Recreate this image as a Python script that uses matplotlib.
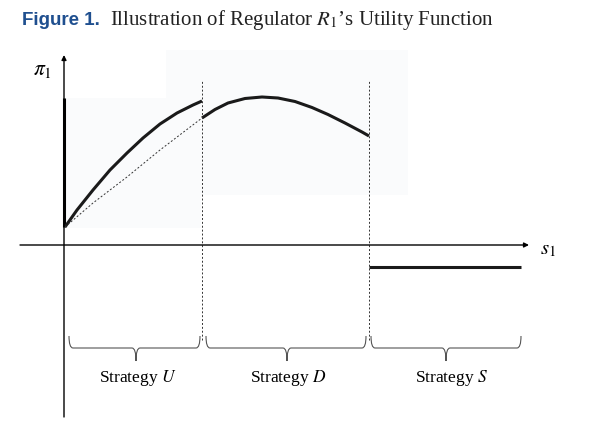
import numpy as np
import matplotlib
matplotlib.use('Agg')
import matplotlib.pyplot as plt
from matplotlib.path import Path
from matplotlib.patches import PathPatch, Rectangle

plt.rcParams['mathtext.fontset'] = 'stix'

# points (s1 along x, pi1 up)
u_s = [1, 13, 29, 46, 63, 79, 96, 113, 129, 138]
u_pi = [18, 35, 55, 75, 92, 107, 121, 132, 140, 144]
u_dash_s = [1, 29, 63, 96, 138]
u_dash_pi = [18, 42, 68, 95, 127]
d_s = [138, 151, 164, 181, 198, 214, 231, 248, 264, 281, 298, 305]
d_pi = [127, 135.5, 142, 146.5, 148, 147, 143.5, 137.5, 130.5, 122, 113, 109]
s_s = [305, 457]
s_pi = [-22, -22]

cut_s = [138, 305]
cut_top, cut_bottom = 165, -95

# braces: start, end, tip, label
brace_start = [5, 142, 307]
brace_end = [136, 302, 457]
brace_tip = [72, 223, 382]
strategies = ['U', 'D', 'S']
label_s = [74, 224, 388]

fig = plt.figure(figsize=(5.96, 4.33), dpi=100)
ax = fig.add_axes([0, 0, 1, 1])
ax.set_xlim(-64, 532)
ax.set_ylim(-188, 245)
ax.axis('off')

# faint scan background
for (x, y, w, h) in [(0, 17, 137, 130), (102, 50, 242, 145)]:
    ax.add_patch(Rectangle((x, y), w, h, facecolor='#fafbfc', edgecolor='none', zorder=0))

# axes with arrows
ax.annotate('', xy=(0, 190), xytext=(0, -172),
            arrowprops=dict(arrowstyle='-|>', lw=1.0, color='black', mutation_scale=7, shrinkA=0, shrinkB=0))
ax.annotate('', xy=(465, 0), xytext=(-44, 0),
            arrowprops=dict(arrowstyle='-|>', lw=1.0, color='black', mutation_scale=7, shrinkA=0, shrinkB=0))
ax.plot([0, 0], [u_pi[0], 147], color='black', lw=2.2, solid_capstyle='butt')
ax.text(-22, 175, r'$\pi_1$', fontsize=15.5, ha='center', va='center')
ax.text(484, -4, r'$s_1$', fontsize=15, ha='center', va='center')

# utility curves
ax.plot(u_s, u_pi, color='#1a1a1a', lw=2.2, solid_capstyle='butt', solid_joinstyle='round')
ax.plot(u_dash_s, u_dash_pi, color='#333333', lw=0.7, ls=(0, (2, 2)))
ax.plot(d_s, d_pi, color='#1a1a1a', lw=2.2, solid_capstyle='butt', solid_joinstyle='round')
ax.plot(s_s, s_pi, color='#1a1a1a', lw=2.2, solid_capstyle='butt')
for s in cut_s:
    ax.plot([s, s], [cut_bottom, cut_top], color='#333333', lw=0.7, ls=(0, (2, 2)))

# curly braces under the axis
top, mid, tipy, r = -91, -103, -116, 4
for x0, x1, xm in zip(brace_start, brace_end, brace_tip):
    verts = [(x0, top), (x0, mid), (x0 + r, mid),
             (xm - r, mid), (xm, mid), (xm, tipy),
             (xm, mid), (xm + r, mid),
             (x1 - r, mid), (x1, mid), (x1, top)]
    codes = [Path.MOVETO, Path.CURVE3, Path.CURVE3,
             Path.LINETO, Path.CURVE3, Path.CURVE3,
             Path.CURVE3, Path.CURVE3,
             Path.LINETO, Path.CURVE3, Path.CURVE3]
    ax.add_patch(PathPatch(Path(verts, codes), facecolor='none', edgecolor='#555555', lw=0.8))

for s, name in zip(label_s, strategies):
    ax.text(s, -133, 'Strategy $%s$' % name, fontsize=12.5, family='Liberation Serif',
            ha='center', va='center')

# title
fig.text(22 / 596, 1 - 25 / 433, 'Figure 1.', fontsize=13.5, fontweight='bold',
         family='Liberation Sans', color='#1f4f8f', ha='left', va='baseline')
fig.text(110 / 596, 1 - 25 / 433, "Illustration of Regulator $R_1$\u2019s Utility Function",
         fontsize=15, family='Liberation Serif', color='#222222', ha='left', va='baseline')

fig.savefig('out.png', dpi=100)
